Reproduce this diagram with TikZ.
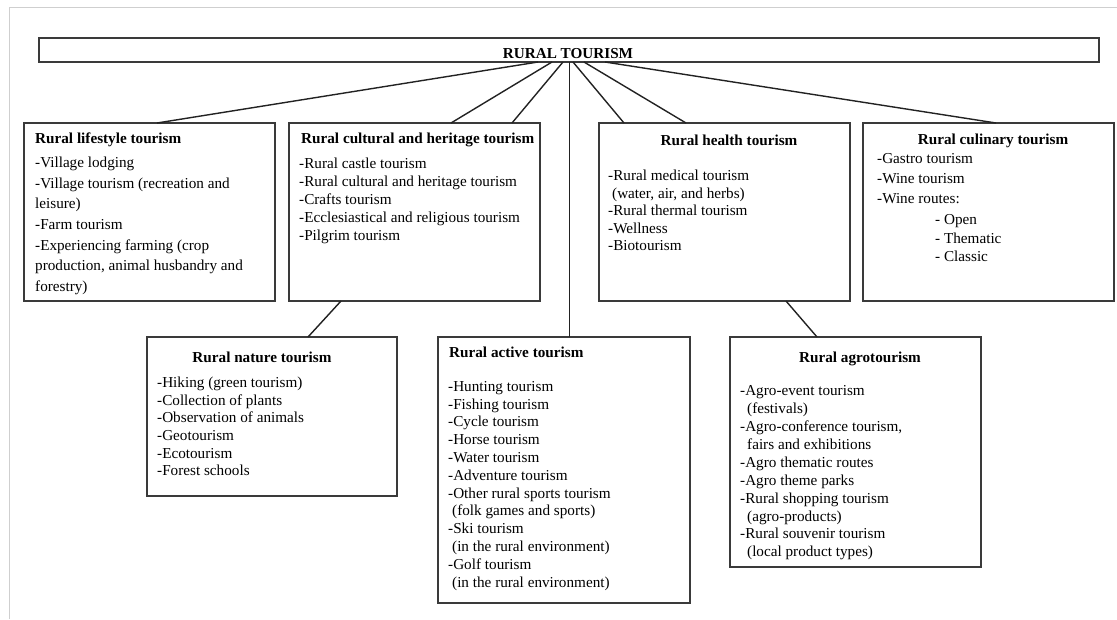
\documentclass[tikz,border=0pt]{standalone}
\usepackage{fontspec}
\setmainfont{Liberation Serif}
\usetikzlibrary{calc}
\definecolor{boxc}{HTML}{3A3A3A}
\definecolor{linec}{HTML}{222222}
\definecolor{framec}{HTML}{CFCFCF}
\begin{document}
\begin{tikzpicture}[x=1pt,y=-1pt,
  box/.style={draw=boxc, line width=1.3pt, inner sep=0pt, outer sep=0pt, anchor=north west},
  conn/.style={draw=linec, line width=1.4pt},
  ttl/.style={font=\fontsize{15.2}{18}\selectfont\bfseries, inner sep=0pt, anchor=base},
  ttlw/.style={ttl, anchor=base west},
  items/.style={font=\fontsize{15.2}{#1}\selectfont, align=left, inner sep=0pt, anchor=north west},
  items/.default=18,
]
\useasboundingbox (0,0) rectangle (1117,619);
% screenshot frame
\draw[framec, line width=1pt] (9,619) -- (9,7) -- (1117,7);

% boxes
\node[box, minimum width=1060pt, minimum height=24pt] (top) at (39,38) {};
\node[ttl] (toptitle) at (568,58) {RURAL TOURISM};

\node[box, minimum width=251pt, minimum height=178pt] (life) at (24,123) {};
\node[box, minimum width=251pt, minimum height=178pt] (cult) at (289,123) {};
\node[box, minimum width=251pt, minimum height=178pt] (health) at (599,123) {};
\node[box, minimum width=251pt, minimum height=178pt] (culi) at (863,123) {};
\node[box, minimum width=250pt, minimum height=159pt] (nat) at (147,337) {};
\node[box, minimum width=252pt, minimum height=266pt] (act) at (438,337) {};
\node[box, minimum width=251pt, minimum height=230pt] (agro) at (730,337) {};

% titles
\node[ttlw] (lifet) at (35,143) {Rural lifestyle tourism};
\node[ttlw] (cultt) at (301,143) {Rural cultural and heritage tourism};
\node[ttl] (healtht) at (729,145) {Rural health tourism};
\node[ttl] (culit) at (993,144) {Rural culinary tourism};
\node[ttl] (natt) at (262,362) {Rural nature tourism};
\node[ttlw] (actt) at (449,357) {Rural active tourism};
\node[ttl] (agrot) at (860,362) {Rural agrotourism};

% item lists
\node[items=20.6] (lifei) at (35,156.5) {\rule{0pt}{11pt}-Village lodging\\
-Village tourism (recreation and\\
leisure)\\
-Farm tourism\\
-Experiencing farming (crop\\
production, animal husbandry and\\
forestry)};

\node[items=18] (culti) at (299,157.5) {\rule{0pt}{11pt}-Rural castle tourism\\
-Rural cultural and heritage tourism\\
-Crafts tourism\\
-Ecclesiastical and religious tourism\\
-Pilgrim tourism};

\node[items=17.5] (healthi) at (608,169.5) {\rule{0pt}{11pt}-Rural medical tourism\\
\hspace*{4pt}(water, air, and herbs)\\
-Rural thermal tourism\\
-Wellness\\
-Biotourism};

\node[items=20] (culii) at (877,152.5) {\rule{0pt}{11pt}-Gastro tourism\\
-Wine tourism\\
-Wine routes:};
\node[items=18.5] (culis) at (935,213.5) {\rule{0pt}{11pt}- Open\\
- Thematic\\
- Classic};

\node[items=17.6] (nati) at (157,376.5) {\rule{0pt}{11pt}-Hiking (green tourism)\\
-Collection of plants\\
-Observation of animals\\
-Geotourism\\
-Ecotourism\\
-Forest schools};

\node[items=17.8] (acti) at (448,380) {\rule{0pt}{11pt}-Hunting tourism\\
-Fishing tourism\\
-Cycle tourism\\
-Horse tourism\\
-Water tourism\\
-Adventure tourism\\
-Other rural sports tourism\\
\hspace*{4pt}(folk games and sports)\\
-Ski tourism\\
\hspace*{4pt}(in the rural environment)\\
-Golf tourism\\
\hspace*{4pt}(in the rural environment)};

\node[items=17.9] (agroi) at (740,384.5) {\rule{0pt}{11pt}-Agro-event tourism\\
\hspace*{7pt}(festivals)\\
-Agro-conference tourism,\\
\hspace*{7pt}fairs and exhibitions\\
-Agro thematic routes\\
-Agro theme parks\\
-Rural shopping tourism\\
\hspace*{7pt}(agro-products)\\
-Rural souvenir tourism\\
\hspace*{7pt}(local product types)};

% connectors
\draw[conn] ([xshift=499pt]top.south west) -- ([xshift=133pt]life.north west);
\draw[conn] ([xshift=513pt]top.south west) -- ([xshift=162pt]cult.north west);
\draw[conn] ([xshift=524pt]top.south west) -- ([xshift=223pt]cult.north west);
\draw[conn] ([xshift=530.5pt]top.south west) -- ([xshift=131.5pt]act.north west);
\draw[conn] ([xshift=534pt]top.south west) -- ([xshift=25pt]health.north west);
\draw[conn] ([xshift=545pt]top.south west) -- ([xshift=87pt]health.north west);
\draw[conn] ([xshift=566pt]top.south west) -- ([xshift=133pt]culi.north west);
\draw[conn] ([xshift=52pt]cult.south west) -- ([xshift=161pt]nat.north west);
\draw[conn] ([xshift=187pt]health.south west) -- ([xshift=87pt]agro.north west);
\end{tikzpicture}
\end{document}
